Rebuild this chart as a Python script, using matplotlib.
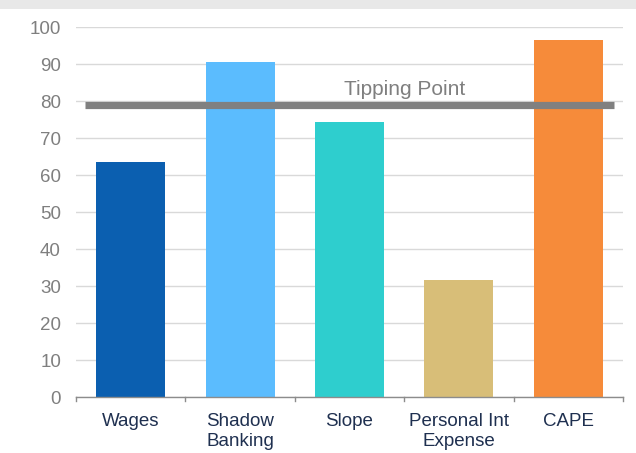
import matplotlib.pyplot as plt
from matplotlib.patches import Rectangle

categories = ["Wages", "Shadow\nBanking", "Slope", "Personal Int\nExpense", "CAPE"]
values = [63.7, 90.5, 74.3, 31.7, 96.5]
colors = ["#0b5fb0", "#5bbcfe", "#2ecece", "#d8be78", "#f68b3a"]
tipping_point = 79.0
y_ticks = [0, 10, 20, 30, 40, 50, 60, 70, 80, 90, 100]

plt.rcParams['font.family'] = ['Liberation Sans', 'DejaVu Sans']

fig = plt.figure(figsize=(6.36, 4.53), dpi=100)
W, H = 636, 453
ax = fig.add_axes([76 / W, 1 - 397.3 / H, 547 / W, 370 / H])

# top header band
fig.patches.append(Rectangle((0, 1 - 9 / H), 1, 9 / H, transform=fig.transFigure,
                             facecolor="#e8e8e8", edgecolor="none", zorder=0))

x = list(range(len(categories)))
ax.bar(x, values, width=0.63, color=colors, zorder=2)

ax.set_xlim(-0.5, len(categories) - 0.5)
ax.set_ylim(0, 100)
ax.set_yticks(y_ticks)
ax.yaxis.grid(True, color="#d9d9d9", linewidth=1.0, zorder=0)
ax.set_axisbelow(True)

# tipping point threshold
ax.plot([-0.42, 4.415], [tipping_point, tipping_point], color="#808080",
        linewidth=5.2, solid_capstyle="butt", zorder=3)
ax.text(2.5, 81.8, "Tipping Point", ha="center", va="baseline",
        fontsize=15, color="#7f7f7f", zorder=4)

for s in ["top", "right", "left"]:
    ax.spines[s].set_visible(False)
ax.spines["bottom"].set_color("#8c8c8c")
ax.spines["bottom"].set_linewidth(1.0)

ax.tick_params(axis="y", length=0, labelsize=13.5, labelcolor="#7f7f7f", pad=10.8)
ax.set_xticks(x)
ax.set_xticklabels(categories, fontsize=13.5, color="#1f3050", linespacing=1.22)
ax.tick_params(axis="x", length=0, pad=11.5)

# boundary tick marks below the baseline
for b in [i - 0.5 for i in range(len(categories) + 1)]:
    ax.plot([b, b], [0, -1.1], color="#8c8c8c", linewidth=1.0, clip_on=False, zorder=3)

fig.savefig("out.png", dpi=100)
